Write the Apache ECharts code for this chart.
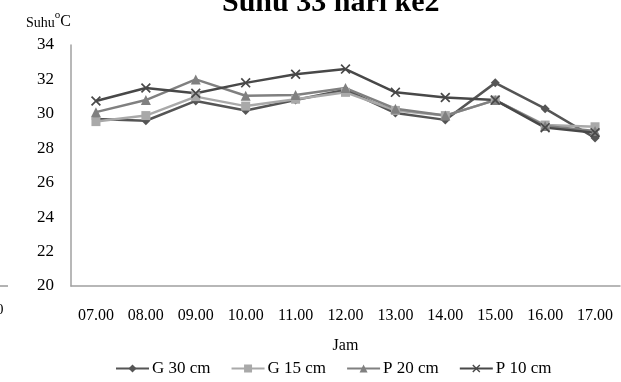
<!DOCTYPE html>
<html><head><meta charset="utf-8">
<script src="https://cdn.jsdelivr.net/npm/echarts@6/dist/echarts.min.js"></script>
<style>html,body{margin:0;padding:0;background:#fff}#c{width:621px;height:382px}</style>
</head><body><div id="c"></div>
<script>
const categories = ['07.00','08.00','09.00','10.00','11.00','12.00','13.00','14.00','15.00','16.00','17.00'];
const g30 = [29.7, 29.6, 30.75, 30.2, 30.8, 31.4, 30.05, 29.65, 31.8, 30.3, 28.6];
const g15 = [29.55, 29.9, 31.0, 30.45, 30.85, 31.25, 30.2, 29.9, 30.8, 29.35, 29.25];
const p20 = [30.1, 30.8, 32.0, 31.05, 31.1, 31.5, 30.3, 29.9, 30.8, 29.3, 29.0];
const p10 = [30.75, 31.5, 31.2, 31.8, 32.3, 32.6, 31.25, 30.95, 30.8, 29.2, 28.9];
const yTicks = [20, 22, 24, 26, 28, 30, 32, 34];

const font = '"Liberation Serif", "Times New Roman", serif';
const xMark = 'path://M0,1.2L1.2,0L5,3.8L8.8,0L10,1.2L6.2,5L10,8.8L8.8,10L5,6.2L1.2,10L0,8.8L3.8,5Z';
function mk(name, data, color, symbol, size) {
  return {
    name, type: 'line', data, symbol, symbolSize: size,
    lineStyle: { color, width: 2.5 },
    itemStyle: { color },
    animation: false
  };
}
const chart = echarts.init(document.getElementById('c'));
chart.setOption({
  animation: false,
  title: {
    text: 'Suhu 33 hari ke2', left: 217, top: -17,
    textStyle: { fontFamily: font, fontWeight: 'bold', fontSize: 30, color: '#000' }
  },
  grid: { left: 71, right: 1, top: 45, bottom: 96 },
  legend: {
    bottom: 0, left: 110, itemGap: 20, itemWidth: 33, itemHeight: 10,
    textStyle: { fontFamily: font, fontSize: 17, color: '#000', padding: [0, 0, 0, -2] },
    data: ['G 30 cm', 'G 15 cm', 'P 20 cm', 'P 10 cm']
  },
  xAxis: {
    type: 'category', data: categories, boundaryGap: true,
    name: 'Jam', nameLocation: 'middle', nameGap: 52,
    nameTextStyle: { fontFamily: font, fontSize: 16, color: '#000' },
    axisLine: { lineStyle: { color: '#a0a0a0', width: 1.5 } },
    axisTick: { show: false },
    axisLabel: { fontFamily: font, fontSize: 16, color: '#000', margin: 22 }
  },
  yAxis: {
    type: 'value', min: yTicks[0], max: yTicks[yTicks.length - 1], interval: 2,
    name: '{a|Suhu}{b|o}{c|C}', nameLocation: 'end', nameGap: 15,
    nameTextStyle: {
      align: 'right',
      rich: {
        a: { fontFamily: font, fontSize: 14, color: '#000', verticalAlign: 'bottom', lineHeight: 16 },
        b: { fontFamily: font, fontSize: 11, color: '#000', verticalAlign: 'top', padding: [0, 0, 9, 0] },
        c: { fontFamily: font, fontSize: 16, color: '#000', verticalAlign: 'bottom', lineHeight: 16 }
      }
    },
    axisLine: { show: true, lineStyle: { color: '#a0a0a0', width: 1.5 } },
    axisTick: { show: false },
    splitLine: { show: false },
    axisLabel: { fontFamily: font, fontSize: 17, color: '#000', margin: 17 }
  },
  graphic: [
    { type: 'line', shape: { x1: 0, y1: 286, x2: 8, y2: 286 }, style: { stroke: '#666', lineWidth: 1 } },
    { type: 'text', left: -4, top: 303, style: { text: '0', font: '15px ' + font, fill: '#000' } }
  ],
  series: [
    mk('G 30 cm', g30, '#555555', 'diamond', 9),
    mk('G 15 cm', g15, '#a9a9a9', 'rect', 9),
    mk('P 20 cm', p20, '#808080', 'triangle', 10),
    mk('P 10 cm', p10, '#484848', xMark, 10)
  ]
});
</script></body></html>
